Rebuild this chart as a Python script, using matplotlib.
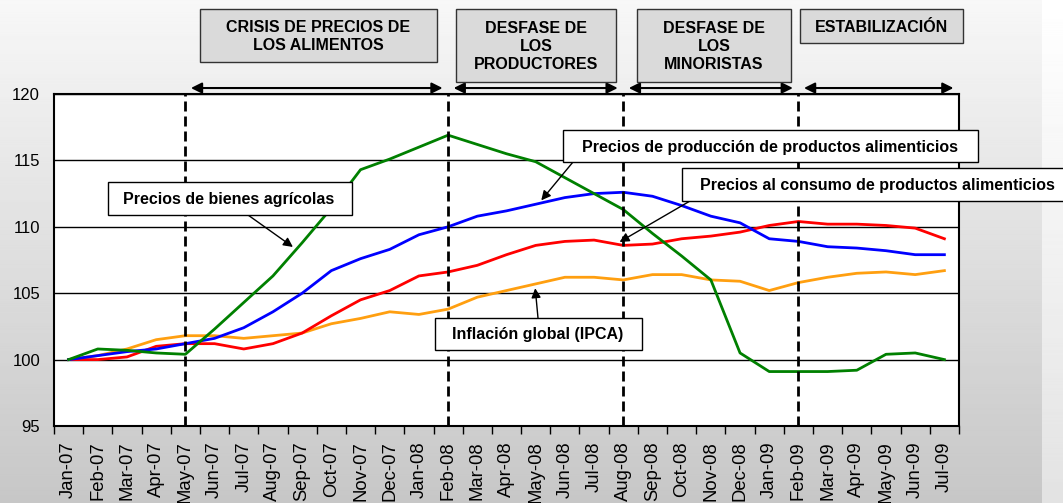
import numpy as np
import matplotlib.pyplot as plt
from matplotlib.patches import Rectangle

plt.rcParams['font.family'] = ['Liberation Sans', 'DejaVu Sans']

# Datos (índice, Jan-07 = 100)
meses = ['Jan-07', 'Feb-07', 'Mar-07', 'Apr-07', 'May-07', 'Jun-07', 'Jul-07',
         'Aug-07', 'Sep-07', 'Oct-07', 'Nov-07', 'Dec-07', 'Jan-08', 'Feb-08',
         'Mar-08', 'Apr-08', 'May-08', 'Jun-08', 'Jul-08', 'Aug-08', 'Sep-08',
         'Oct-08', 'Nov-08', 'Dec-08', 'Jan-09', 'Feb-09', 'Mar-09', 'Apr-09',
         'May-09', 'Jun-09', 'Jul-09']
agricolas = [100.0, 100.8, 100.7, 100.5, 100.4, 102.3, 104.3, 106.3, 108.8, 111.4,
             114.3, 115.1, 116.0, 116.9, 116.2, 115.5, 114.9, 113.7, 112.5, 111.3,
             109.5, 107.8, 106.0, 100.5, 99.1, 99.1, 99.1, 99.2, 100.4, 100.5, 100.0]
produccion = [100.0, 100.3, 100.6, 100.8, 101.2, 101.6, 102.4, 103.6, 105.0, 106.7,
              107.6, 108.3, 109.4, 110.0, 110.8, 111.2, 111.7, 112.2, 112.5, 112.6,
              112.3, 111.6, 110.8, 110.3, 109.1, 108.9, 108.5, 108.4, 108.2, 107.9, 107.9]
consumo = [100.0, 100.0, 100.2, 101.0, 101.2, 101.2, 100.8, 101.2, 102.0, 103.3,
           104.5, 105.2, 106.3, 106.6, 107.1, 107.9, 108.6, 108.9, 109.0, 108.6,
           108.7, 109.1, 109.3, 109.6, 110.1, 110.4, 110.2, 110.2, 110.1, 109.9, 109.1]
ipca = [100.0, 100.3, 100.8, 101.5, 101.8, 101.8, 101.6, 101.8, 102.0, 102.7,
        103.1, 103.6, 103.4, 103.8, 104.7, 105.2, 105.7, 106.2, 106.2, 106.0,
        106.4, 106.4, 106.0, 105.9, 105.2, 105.8, 106.2, 106.5, 106.6, 106.4, 106.7]

fases = ['CRISIS DE PRECIOS DE\nLOS ALIMENTOS', 'DESFASE DE\nLOS\nPRODUCTORES',
         'DESFASE DE\nLOS\nMINORISTAS', 'ESTABILIZACIÓN']
cortes = ['May-07', 'Feb-08', 'Aug-08', 'Feb-09']

W, H = 1063, 503
fig = plt.figure(figsize=(W / 100, H / 100), dpi=100)


def px(x, y):
    # pixeles (origen arriba a la izquierda) -> fracción de figura
    return x / W, 1 - y / H


# Fondo degradado
bg = fig.add_axes([0, 0, 1, 1], zorder=-10)
vert = np.linspace(0.97, 0.78, 200)[:, None]
img = np.repeat(vert, W, axis=1)
img[:, 1042:] = np.linspace(1.0, 0.89, 200)[:, None]
bg.imshow(img, cmap='gray', vmin=0, vmax=1, aspect='auto', extent=[0, 1, 0, 1])
bg.axis('off')

# Eje principal
ax = fig.add_axes([54 / W, 77 / H, 905 / W, 332 / H])
ax.set_facecolor('white')
x = np.arange(len(meses))

ax.plot(x, ipca, color='#ff9f10', lw=2)
ax.plot(x, consumo, color='#ff0000', lw=2)
ax.plot(x, produccion, color='#0000ff', lw=2)
ax.plot(x, agricolas, color='#008000', lw=2)

ax.set_xlim(-0.5, len(meses) - 0.5)
ax.set_ylim(95, 120)
ax.set_yticks(np.arange(95, 121, 5))
ax.yaxis.grid(True, color='black', lw=1)
ax.set_axisbelow(True)
ax.tick_params(axis='y', labelsize=12, length=0, pad=10)

ax.set_xticks(np.arange(-0.5, len(meses)), labels=[])
ax.set_xticks(x, labels=meses, minor=True)
ax.tick_params(axis='x', which='major', length=6, width=1)
ax.tick_params(axis='x', which='minor', length=0, labelsize=13.3, labelrotation=90, pad=11)
for s in ax.spines.values():
    s.set_linewidth(1.5)

# Líneas de fase
bordes = [meses.index(c) for c in cortes]
for b in bordes:
    ax.axvline(b, color='black', lw=2, dashes=(3.6, 1.8), clip_on=False)

# Flechas dobles de fase
limites = bordes + [len(meses) - 0.5]
for a, b in zip(limites[:-1], limites[1:]):
    ax.annotate('', xy=(b, 1.018), xytext=(a, 1.018), xycoords=ax.get_xaxis_transform(),
                arrowprops=dict(arrowstyle='<|-|>', color='black', lw=1.5,
                                mutation_scale=16, shrinkA=4, shrinkB=4),
                annotation_clip=False)

# Cajas de fase
cajas_fase = [(200, 9, 437, 62), (456, 9, 616, 82), (637, 9, 791, 82), (800, 9, 963, 43)]
for (x0, y0, x1, y1), txt in zip(cajas_fase, fases):
    fig.add_artist(Rectangle(px(x0, y1), (x1 - x0) / W, (y1 - y0) / H,
                             transform=fig.transFigure, fc='#dadada', ec='#333333', lw=1))
    cx, cy = px((x0 + x1) / 2, (y0 + y1) / 2 + 1)
    fig.text(cx, cy, txt, ha='center', va='center', fontsize=11.5, fontweight='bold',
             linespacing=1.27)

# Etiquetas de series
etiquetas = [
    ('Precios de bienes agrícolas', (108, 182, 352, 215), 229, (248, 215), 7.8, agricolas),
    ('Precios de producción de productos alimenticios', (563, 130, 978, 162), 770,
     (573, 162), 16.1, produccion),
    ('Precios al consumo de productos alimenticios', (682, 168, 1070, 201), 877,
     (690, 201), 18.75, consumo),
    ('Inflación global (IPCA)', (435, 318, 642, 350), 538, (538, 318), 15.97, ipca),
]
for txt, (x0, y0, x1, y1), tx, origen, xi, serie in etiquetas:
    fig.add_artist(Rectangle(px(x0, y1), (x1 - x0) / W, (y1 - y0) / H,
                             transform=fig.transFigure, fc='white', ec='black', lw=1, zorder=5))
    cx, cy = px(tx, (y0 + y1) / 2 + 1)
    fig.text(cx, cy, txt, ha='center', va='center', fontsize=11.5, fontweight='bold', zorder=6)
    ax.annotate('', xy=(xi, np.interp(xi, x, serie)), xycoords='data',
                xytext=px(*origen), textcoords='figure fraction',
                arrowprops=dict(arrowstyle='-|>', color='black', lw=1,
                                mutation_scale=14, shrinkA=0, shrinkB=3),
                annotation_clip=False, zorder=6)

fig.savefig('out.png', dpi=100)
